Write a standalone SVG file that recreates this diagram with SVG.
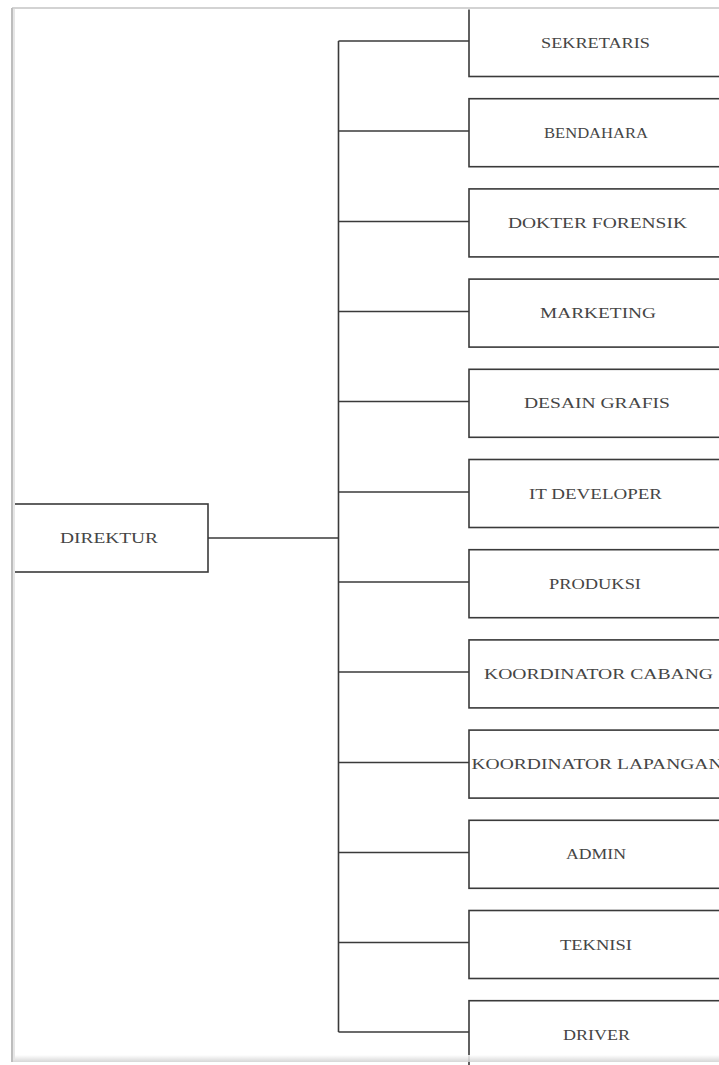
<svg xmlns="http://www.w3.org/2000/svg" width="719" height="1065" viewBox="0 0 719 1065">
<style>
.box{fill:#fff;stroke:#3a3a3a;stroke-width:1.6}
.lbl{font-family:"Liberation Serif","Times New Roman",serif;font-size:15px;fill:#454545}
.con{fill:none;stroke:#3a3a3a;stroke-width:1.6}
</style>
<defs>
<linearGradient id="bot" x1="0" y1="0" x2="0" y2="1">
<stop offset="0" stop-color="#ffffff"/>
<stop offset="1" stop-color="#d0d0d0"/>
</linearGradient>
<clipPath id="pageclip"><rect x="0" y="9.5" width="719" height="1060"/></clipPath>
</defs>
<rect width="719" height="1065" fill="#fff"/>
<g id="connectors">
<line class="con" x1="208" y1="538" x2="338.5" y2="538"/>
<line class="con" x1="338.5" y1="41" x2="338.5" y2="1032"/>
<line class="con" x1="338.5" y1="41" x2="469" y2="41"/>
<line class="con" x1="338.5" y1="131" x2="469" y2="131"/>
<line class="con" x1="338.5" y1="221.5" x2="469" y2="221.5"/>
<line class="con" x1="338.5" y1="311.5" x2="469" y2="311.5"/>
<line class="con" x1="338.5" y1="401.5" x2="469" y2="401.5"/>
<line class="con" x1="338.5" y1="492" x2="469" y2="492"/>
<line class="con" x1="338.5" y1="582" x2="469" y2="582"/>
<line class="con" x1="338.5" y1="672" x2="469" y2="672"/>
<line class="con" x1="338.5" y1="762.5" x2="469" y2="762.5"/>
<line class="con" x1="338.5" y1="852.5" x2="469" y2="852.5"/>
<line class="con" x1="338.5" y1="942.5" x2="469" y2="942.5"/>
<line class="con" x1="338.5" y1="1032" x2="469" y2="1032"/>
</g>
<g id="direktur"><rect class="box" x="13" y="504" width="195" height="68"/><text class="lbl" x="60" y="543" textLength="98" lengthAdjust="spacingAndGlyphs">DIREKTUR</text></g>
<g id="sekretaris" clip-path="url(#pageclip)"><rect class="box" x="469" y="-20" width="256" height="96.5"/><text class="lbl" x="541" y="47.5" textLength="109" lengthAdjust="spacingAndGlyphs">SEKRETARIS</text></g>
<g id="bendahara"><rect class="box" x="469" y="98.7" width="256" height="68"/><text class="lbl" x="544" y="137.7" textLength="104" lengthAdjust="spacingAndGlyphs">BENDAHARA</text></g>
<g id="dokter-forensik"><rect class="box" x="469" y="188.9" width="256" height="68"/><text class="lbl" x="508" y="227.9" textLength="179" lengthAdjust="spacingAndGlyphs">DOKTER FORENSIK</text></g>
<g id="marketing"><rect class="box" x="469" y="279.1" width="256" height="68"/><text class="lbl" x="540" y="318.1" textLength="116" lengthAdjust="spacingAndGlyphs">MARKETING</text></g>
<g id="desain-grafis"><rect class="box" x="469" y="369.3" width="256" height="68"/><text class="lbl" x="524" y="408.3" textLength="146" lengthAdjust="spacingAndGlyphs">DESAIN GRAFIS</text></g>
<g id="it-developer"><rect class="box" x="469" y="459.5" width="256" height="68"/><text class="lbl" x="529" y="498.5" textLength="133" lengthAdjust="spacingAndGlyphs">IT DEVELOPER</text></g>
<g id="produksi"><rect class="box" x="469" y="549.7" width="256" height="68"/><text class="lbl" x="549" y="588.7" textLength="92" lengthAdjust="spacingAndGlyphs">PRODUKSI</text></g>
<g id="koordinator-cabang"><rect class="box" x="469" y="639.9" width="256" height="68"/><text class="lbl" x="484" y="678.9" textLength="229" lengthAdjust="spacingAndGlyphs">KOORDINATOR CABANG</text></g>
<g id="koordinator-lapangan"><rect class="box" x="469" y="730.1" width="256" height="68"/><text class="lbl" x="471.5" y="769.1" textLength="251" lengthAdjust="spacingAndGlyphs">KOORDINATOR LAPANGAN</text></g>
<g id="admin"><rect class="box" x="469" y="820.3" width="256" height="68"/><text class="lbl" x="566" y="859.3" textLength="60" lengthAdjust="spacingAndGlyphs">ADMIN</text></g>
<g id="teknisi"><rect class="box" x="469" y="910.5" width="256" height="68"/><text class="lbl" x="560" y="949.5" textLength="72" lengthAdjust="spacingAndGlyphs">TEKNISI</text></g>
<g id="driver"><rect class="box" x="469" y="1000.7" width="256" height="68"/><text class="lbl" x="563" y="1039.7" textLength="67" lengthAdjust="spacingAndGlyphs">DRIVER</text></g>
<g id="page">
<rect x="12" y="1055" width="707" height="7" fill="url(#bot)" opacity="0.85"/>
<line x1="12" y1="8" x2="719" y2="8" stroke="#c4c4c4" stroke-width="1.5"/>
<line x1="12" y1="8" x2="12" y2="1062" stroke="#bdbdbd" stroke-width="2"/>
<line x1="14" y1="9" x2="14" y2="1060" stroke="#e6e6e6" stroke-width="2"/>
</g>
</svg>
